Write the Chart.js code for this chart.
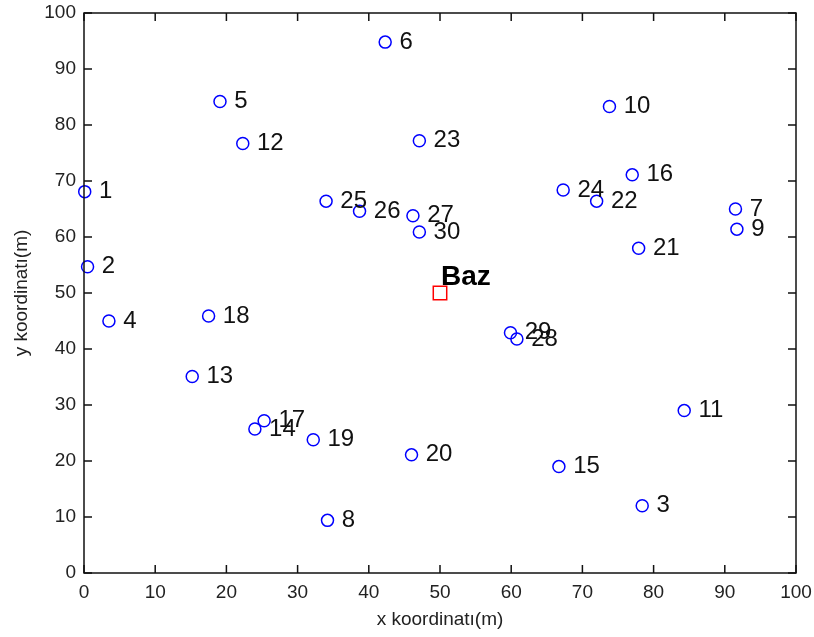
<!DOCTYPE html>
<html>
<head>
<meta charset="utf-8">
<script src="https://cdn.jsdelivr.net/npm/chart.js@4.4.0/dist/chart.umd.min.js"></script>
<style>
  html, body { margin: 0; padding: 0; background: #fff; }
  canvas { display: block; }
</style>
</head>
<body>
<canvas id="chart" width="814" height="637"></canvas>
<script>
// node numbers and their coordinates (m)
var nodeIds = [1, 2, 3, 4, 5, 6, 7, 8, 9, 10,
               11, 12, 13, 14, 15, 16, 17, 18, 19, 20,
               21, 22, 23, 24, 25, 26, 27, 28, 29, 30];
var nodeX = [0.1, 0.5, 78.4, 3.5, 19.1, 42.3, 91.5, 34.2, 91.7, 73.8,
             84.3, 22.3, 15.2, 24.0, 66.7, 77.0, 25.3, 17.5, 32.2, 46.0,
             77.9, 72.0, 47.1, 67.3, 34.0, 38.7, 46.2, 60.8, 59.9, 47.1];
var nodeY = [68.1, 54.7, 12.0, 45.0, 84.2, 94.8, 65.0, 9.4, 61.4, 83.3,
             29.0, 76.7, 35.1, 25.7, 19.0, 71.1, 27.2, 45.9, 23.8, 21.1,
             58.0, 66.4, 77.2, 68.4, 66.4, 64.6, 63.8, 41.8, 42.9, 60.9];
// base station
var bazX = [50];
var bazY = [50];
var bazName = 'Baz';

var tickValues = [0, 10, 20, 30, 40, 50, 60, 70, 80, 90, 100];
var xTitle = 'x koordinatı(m)';
var yTitle = 'y koordinatı(m)';

var FONT = '"Liberation Sans", Arial, Helvetica, sans-serif';

function toPoints(xs, ys) {
  return xs.map(function (x, i) { return { x: x, y: ys[i] }; });
}

function setTicks(scale) {
  scale.ticks = tickValues.map(function (v) { return { value: v }; });
}

// box around the plot with inward ticks on all four sides
var boxPlugin = {
  id: 'box',
  afterDraw: function (chart) {
    var ctx = chart.ctx, a = chart.chartArea;
    var xs = chart.scales.x, ys = chart.scales.y;
    var len = 8;
    ctx.save();
    ctx.strokeStyle = '#111';
    ctx.lineWidth = 1.5;
    ctx.strokeRect(a.left, a.top, a.right - a.left, a.bottom - a.top);
    ctx.beginPath();
    tickValues.forEach(function (v) {
      var px = xs.getPixelForValue(v);
      ctx.moveTo(px, a.bottom); ctx.lineTo(px, a.bottom - len);
      ctx.moveTo(px, a.top); ctx.lineTo(px, a.top + len);
      var py = ys.getPixelForValue(v);
      ctx.moveTo(a.left, py); ctx.lineTo(a.left + len, py);
      ctx.moveTo(a.right, py); ctx.lineTo(a.right - len, py);
    });
    ctx.stroke();
    ctx.restore();
  }
};

// node numbers next to circles, "Baz" above the square
var labelPlugin = {
  id: 'labels',
  afterDatasetsDraw: function (chart) {
    var ctx = chart.ctx;
    var xs = chart.scales.x;
    var nodes = chart.getDatasetMeta(0).data;
    ctx.save();
    ctx.fillStyle = '#111';
    ctx.font = '24px ' + FONT;
    ctx.textAlign = 'left';
    ctx.textBaseline = 'middle';
    nodes.forEach(function (pt, i) {
      var tx = xs.getPixelForValue(nodeX[i] + 2);
      ctx.fillText(String(nodeIds[i]), tx, pt.y);
    });
    var b = chart.getDatasetMeta(1).data[0];
    ctx.fillStyle = '#000';
    ctx.font = 'bold 28px ' + FONT;
    ctx.textBaseline = 'alphabetic';
    ctx.fillText(bazName, b.x + 1, b.y - 8);
    ctx.restore();
  }
};

new Chart(document.getElementById('chart'), {
  type: 'scatter',
  data: {
    datasets: [{
      label: 'Düğümler',
      data: toPoints(nodeX, nodeY),
      pointStyle: 'circle',
      pointRadius: 6,
      pointBorderWidth: 1.5,
      borderColor: '#0000ff',
      backgroundColor: 'rgba(0,0,0,0)',
      clip: false
    }, {
      label: bazName,
      data: toPoints(bazX, bazY),
      pointStyle: 'rect',
      pointRadius: 9.5,
      pointBorderWidth: 1.5,
      borderColor: '#ff0000',
      backgroundColor: 'rgba(0,0,0,0)',
      clip: false
    }]
  },
  options: {
    responsive: false,
    animation: false,
    events: [],
    layout: { padding: { top: 13, right: 18, left: 0, bottom: 0 } },
    plugins: { legend: { display: false }, tooltip: { enabled: false } },
    scales: {
      x: {
        type: 'linear', min: 0, max: 100,
        afterBuildTicks: setTicks,
        afterFit: function (s) { s.height = 64; s.paddingLeft = 0; s.paddingRight = 0; },
        grid: { display: false, drawTicks: false },
        border: { display: false },
        ticks: { padding: 8, color: '#222', font: { family: FONT, size: 19 } },
        title: { display: true, text: xTitle, color: '#222',
                 font: { family: FONT, size: 19 }, padding: { top: 0, bottom: 6 } }
      },
      y: {
        type: 'linear', min: 0, max: 100,
        afterBuildTicks: setTicks,
        afterFit: function (s) { s.width = 84; s.paddingTop = 0; s.paddingBottom = 0; },
        grid: { display: false, drawTicks: false },
        border: { display: false },
        ticks: { padding: 8, color: '#222', font: { family: FONT, size: 19 } },
        title: { display: true, text: yTitle, color: '#222',
                 font: { family: FONT, size: 19 }, padding: { top: 10, bottom: 0 } }
      }
    }
  },
  plugins: [boxPlugin, labelPlugin]
});
</script>
</body>
</html>
